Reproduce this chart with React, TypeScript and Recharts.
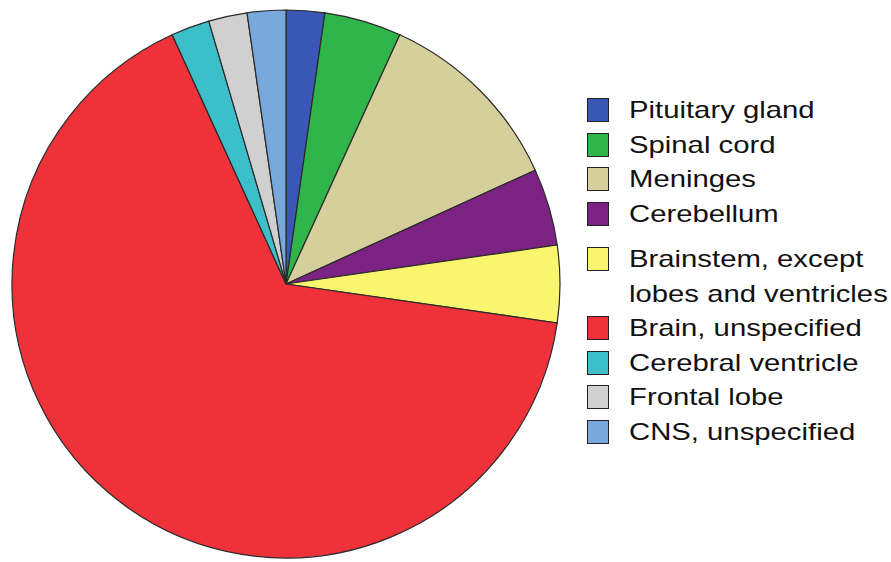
import { Cell, Legend, Pie, PieChart } from "recharts";

const sites: string[] = [
    "Pituitary gland",
    "Spinal cord",
    "Meninges",
    "Cerebellum",
    "Brainstem, except lobes and ventricles",
    "Brain, unspecified",
    "Cerebral ventricle",
    "Frontal lobe",
    "CNS, unspecified",
];

const counts: number[] = [1, 2, 5, 2, 2, 29, 1, 1, 1];

const COLORS = [
    "#3a57b5", "#2fb54a", "#d5cf9b", "#7b2283", "#f9f56e",
    "#ef3139", "#3cbfc9", "#d0d0d0", "#79a8dc",
];

const chartData = sites.map((name, i) => ({ name, value: counts[i] }));

// legend is drawn straight from the data so the order matches the source
const renderLegend = () => (
    <div style={{ fontFamily: "'Liberation Sans', Arial, sans-serif", fontSize: 24, color: "#111" }}>
        {chartData.map((entry, index) => (
            <div
                key={`legend-${index}`}
                style={{
                    display: "flex",
                    alignItems: "flex-start",
                    lineHeight: "34.5px",
                    marginTop: index === 4 ? 11 : 0,
                }}
            >
                <div
                    style={{
                        width: 20,
                        height: 22,
                        marginTop: 5,
                        background: COLORS[index % COLORS.length],
                        border: "1.5px solid #222",
                        flexShrink: 0,
                    }}
                />
                <div style={{ width: 20, flexShrink: 0 }} />
                <div style={{ transform: "scaleX(1.22)", transformOrigin: "left top", width: 214 }}>
                    {entry.name}
                </div>
            </div>
        ))}
    </div>
);

export default function App() {
    return (
        <div style={{ position: "absolute", left: 0, top: 0, background: "#fff" }}>
            <PieChart width={891} height={562} margin={{ top: 0, right: 0, bottom: 0, left: 0 }}>
                <Pie
                    data={chartData}
                    dataKey="value"
                    nameKey="name"
                    cx={286}
                    cy={284}
                    outerRadius={274}
                    startAngle={90}
                    endAngle={-270}
                    stroke="#2a2a2a"
                    strokeWidth={1.2}
                    isAnimationActive={false}
                >
                    {chartData.map((_entry, index) => (
                        <Cell key={`cell-${index}`} fill={COLORS[index % COLORS.length]} />
                    ))}
                </Pie>
                <Legend
                    content={renderLegend}
                    wrapperStyle={{ left: 587, top: 93, width: 304, bottom: "auto", right: "auto" }}
                />
            </PieChart>
        </div>
    );
}
